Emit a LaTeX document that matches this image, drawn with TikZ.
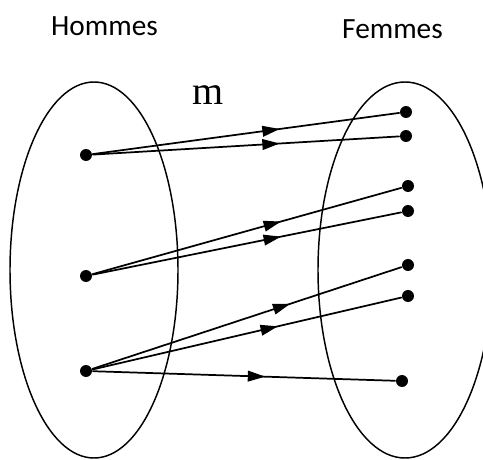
\documentclass[tikz,border=0pt]{standalone}
\usepackage{fontspec}
\setmainfont{Carlito}
\newfontfamily\serifm{Liberation Serif}
\usetikzlibrary{arrows.meta,calc,positioning,decorations.markings}
\tikzset{
  dotv/.style={circle, fill, inner sep=0pt, minimum size=9pt},
  setlbl/.style={font=\fontsize{22}{26}\selectfont},
  midarrow/.style={postaction={decorate,decoration={markings,
      mark=at position #1 with {\arrow{Triangle[length=13pt,width=8pt]}}}}},
  every picture/.style={line cap=round, line join=round}
}

\begin{document}
\begin{tikzpicture}[x=0.75pt,y=-0.75pt,line width=1.3pt]
  \useasboundingbox (0,0) rectangle (483,460);
  % the two sets
  \draw[line width=1.1pt] (94,270) ellipse [x radius=84, y radius=188];
  \draw[line width=1.1pt] (405,270) ellipse [x radius=87, y radius=188];
  \node[setlbl] (hom) at (104.5,26) {Hommes};
  \node[setlbl] (fem) at (392.5,29) {Femmes};
  \node[font=\serifm\fontsize{30}{34}\selectfont] (m) at (208,95.5) {m};
  % left points
  \node[dotv] (l1) at (86,155) {};
  \node[dotv] (l2) at (86,276) {};
  \node[dotv] (l3) at (86,371) {};
  % right points
  \node[dotv] (r1) at (406,112) {};
  \node[dotv] (r2) at (406,136) {};
  \node[dotv] (r3) at (408,186) {};
  \node[dotv] (r4) at (408,211) {};
  \node[dotv] (r5) at (408,265) {};
  \node[dotv] (r6) at (408,296) {};
  \node[dotv] (r7) at (402,381) {};
  % the arrows
  \draw[midarrow=0.61] (l1) -- (r1);
  \draw[midarrow=0.61] (l1) -- (r2);
  \draw[midarrow=0.61] (l2) -- (r3);
  \draw[midarrow=0.61] (l2) -- (r4);
  \draw[midarrow=0.64] (l3) -- (r5);
  \draw[midarrow=0.60] (l3) -- (r6);
  \draw[midarrow=0.57] (l3) -- (r7);
\end{tikzpicture}
\end{document}
